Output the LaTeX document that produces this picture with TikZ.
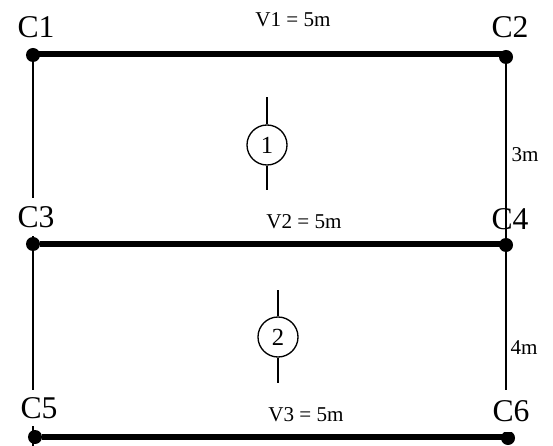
\documentclass[tikz,border=0pt]{standalone}
\usepackage{fontspec}
\setmainfont{Liberation Serif}
\tikzset{
  column/.style={circle,fill=black,inner sep=0pt,minimum size=0.35cm},
  beam/.style={line width=3.6pt},
  wall/.style={line width=1.1pt},
  collabel/.style={font=\fontsize{22.5}{24}\selectfont,inner sep=0pt},
  sizelabel/.style={font=\fontsize{15}{16}\selectfont,inner sep=0pt},
  section/.style={circle,draw,line width=0.95pt,inner sep=0pt,minimum size=1cm,font=\fontsize{17.5}{19}\selectfont}
}
\begin{document}
\begin{tikzpicture}[x=0.025cm,y=-0.025cm]
\useasboundingbox (0,0) rectangle (553,446);

% columns
\node[column] (c1) at (33,55) {};
\node[column] (c2) at (506,57) {};
\node[column] (c3) at (33,244) {};
\node[column] (c4) at (506,245) {};
\node[column] (c5) at (35,437) {};
\node[column] (c6) at (508,438) {};

\coordinate (b1a) at (33,54);
\coordinate (b1b) at (506,54);
\coordinate (b2b) at (506,244);
\coordinate (b3b) at (508,437);
\coordinate (c5end) at (33,446);

% walls
\draw[wall] (c1)--(c3);
\draw[wall] (c2)--(c4);
\draw[wall] (c3)--(c5end);
\draw[wall] (c4)--(c4|-c6);

% beams
\draw[beam] (b1a)--(b1b);
\draw[beam] (c3)--(b2b);
\draw[beam] (c5)--(b3b);

% column labels
\node[collabel] (l1) at (36,27) {C1};
\node[collabel] (l2) at (510,27) {C2};
\node[collabel,fill=white,minimum height=0.95cm] (l3) at (36,217) {C3};
\node[collabel] (l4) at (510,219) {C4};
\node[collabel,fill=white,minimum height=0.9cm] (l5) at (39,408) {C5};
\node[collabel,fill=white,minimum height=1.05cm] (l6) at (511,411) {C6};

% sizes
\node[sizelabel] (v1) at (293,20) {V1 = 5m};
\node[sizelabel] (v2) at (304,222) {V2 = 5m};
\node[sizelabel] (v3) at (306,415) {V3 = 5m};
\node[sizelabel] (h1) at (525,155) {3m};
\node[sizelabel] (h2) at (524,348) {4m};

% sections
\node[section] (s1) at (267,145) {1};
\node[section] (s2) at (278,337) {2};

\coordinate (s1top) at (267,97);
\coordinate (s1bot) at (267,190);
\coordinate (s2top) at (278,290);
\coordinate (s2bot) at (278,383);

\draw[wall] (s1)--(s1top);
\draw[wall] (s1)--(s1bot);
\draw[wall] (s2)--(s2top);
\draw[wall] (s2)--(s2bot);

\end{tikzpicture}
\end{document}
